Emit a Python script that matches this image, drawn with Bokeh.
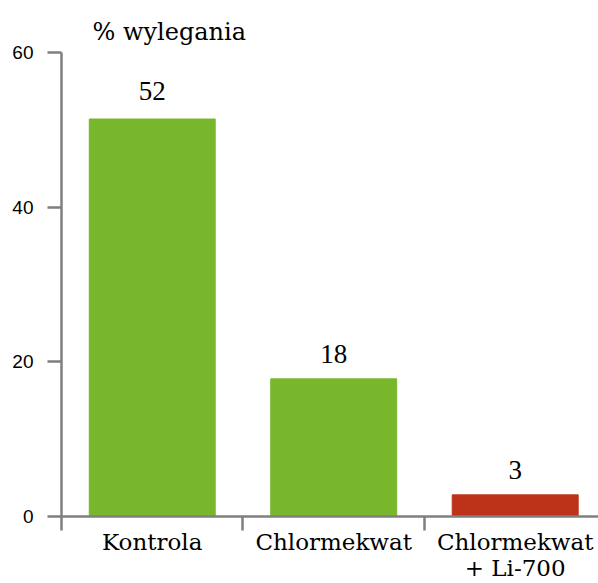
from bokeh.plotting import figure
from bokeh.models import Range1d, FixedTicker, ColumnDataSource, LabelSet
from bokeh.embed import file_html
from bokeh.resources import INLINE

# Data
categories = ["Kontrola", "Chlormekwat", "Chlormekwat\n+ Li-700"]
values = [51.4, 17.8, 2.8]
value_labels = ["52", "18", "3"]
label_values = [52, 18, 3]
colors = ["#78B72C", "#78B72C", "#BD3319"]
y_ticks = [0, 20, 40, 60]

AXIS = "#7f7f7f"
SERIF = "DejaVu Serif"
SANS = "Liberation Sans"

xs = [i + 0.5 for i in range(len(categories))]
src = ColumnDataSource(dict(x=xs, top=values, color=colors,
                            lab=value_labels, ly=label_values))

p = figure(width=598, height=583, output_backend="svg", toolbar_location=None,
           x_range=Range1d(0, 2.959), y_range=Range1d(0, 60),
           min_border_left=61, min_border_right=0, min_border_top=52,
           min_border_bottom=67)

p.title.text = "% wylegania"
p.title.text_font = SERIF
p.title.text_font_size = "24px"
p.title.text_font_style = "normal"
p.title.text_color = "black"
p.title.align = "left"
p.title.offset = 31
p.title.standoff = 13

p.vbar(x="x", top="top", width=0.694, color="color", source=src)
labels = LabelSet(x="x", y="ly", text="lab", source=src, text_align="center",
                  text_baseline="alphabetic", y_offset=14,
                  text_font=SERIF, text_font_size="27px", text_color="black")
p.add_layout(labels)

p.outline_line_color = None
p.xgrid.visible = False
p.ygrid.visible = False

ya = p.yaxis[0]
ya.ticker = FixedTicker(ticks=y_ticks)
ya.bounds = (0, 60)
ya.axis_line_color = AXIS
ya.axis_line_width = 2.5
ya.major_tick_line_color = AXIS
ya.major_tick_line_width = 2.5
ya.major_tick_out = 14
ya.major_tick_in = 0
ya.minor_tick_line_color = None
ya.major_label_standoff = 14
ya.major_label_text_font = SANS
ya.major_label_text_font_size = "19px"
ya.major_label_text_color = "black"

xa = p.xaxis[0]
xa.ticker = FixedTicker(ticks=xs, minor_ticks=list(range(len(categories))))
xa.major_label_overrides = {x: c for x, c in zip(xs, categories)}
xa.axis_line_color = AXIS
xa.axis_line_width = 2.5
xa.major_tick_line_color = None
xa.major_tick_out = 14
xa.major_tick_in = 0
xa.minor_tick_line_color = AXIS
xa.minor_tick_line_width = 2.5
xa.minor_tick_out = 14
xa.minor_tick_in = 0
xa.major_label_standoff = -2
xa.major_label_text_font = SERIF
xa.major_label_text_font_size = "23px"
xa.major_label_text_line_height = 1.0
xa.major_label_text_color = "black"

open("out.html", "w").write(file_html(p, INLINE))
